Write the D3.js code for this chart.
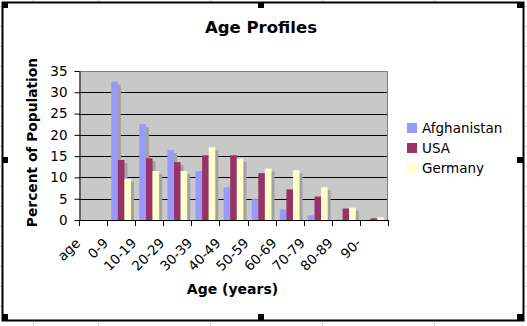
<!DOCTYPE html>
<html><head><meta charset="utf-8">
<script src="https://cdn.jsdelivr.net/npm/d3@7"></script>
<style>
html,body{margin:0;padding:0;background:#fff;}
svg{display:block;font-family:"DejaVu Sans",Verdana,sans-serif;}
</style></head><body>
<svg id="chart" width="527" height="326"></svg>
<script>
// Age-group share of population by country
const categories = ["age","0-9","10-19","20-29","30-39","40-49","50-59","60-69","70-79","80-89","90-"];
const seriesNames = ["Afghanistan","USA","Germany"];
const afghanistan = [null, 32.5, 22.5, 16.4, 11.5, 7.7, 4.9, 2.5, 1.1, 0.1, 0];
const usa         = [null, 14.1, 14.5, 13.6, 15.2, 15.2, 11.0, 7.2, 5.5, 2.7, 0.4];
const germany     = [null,  9.7, 11.5, 11.5, 17.1, 14.4, 12.1, 11.7, 7.7, 2.9, 0.6];
const yTicks = [0, 5, 10, 15, 20, 25, 30, 35];
const colors = ["#9999ff", "#993366", "#ffffcc"];

const seriesValues = [afghanistan, usa, germany];

const svg = d3.select("#chart");
const W = 527, H = 326;

// worksheet cells behind the chart object
const sheet = svg.append("g").attr("stroke", "#d4d4d4").attr("stroke-width", 1);
[33.5, 98.5, 210.5, 322.5, 434.5].forEach(x =>
  sheet.append("line").attr("x1", x).attr("x2", x).attr("y1", 0).attr("y2", H));
d3.range(6.5, H, 20).forEach(y =>
  sheet.append("line").attr("x1", 0).attr("x2", W).attr("y1", y).attr("y2", y));

// chart object frame
svg.append("rect")
  .attr("x", 2.5).attr("y", 2.5).attr("width", 521).attr("height", 318)
  .attr("fill", "#fff").attr("stroke", "#000").attr("stroke-width", 2);

// plot area
const plot = {left: 79, right: 388, top: 71, bottom: 220};
const x = d3.scaleBand().domain(categories).range([plot.left, plot.right]);
const xs = d3.scaleBand().domain(seriesNames).range([0, x.bandwidth()]).paddingOuter(0.63);
const y = d3.scaleLinear().domain([0, 35]).range([plot.bottom, plot.top]);

svg.append("rect")
  .attr("x", plot.left).attr("y", plot.top)
  .attr("width", plot.right - plot.left).attr("height", plot.bottom - plot.top)
  .attr("fill", "#c8c8c8");

// horizontal gridlines
svg.append("g").selectAll("line")
  .data(yTicks.filter(t => t > 0 && t < 35))
  .join("line")
  .attr("x1", plot.left).attr("x2", plot.right)
  .attr("y1", d => Math.round(y(d)) + 0.5).attr("y2", d => Math.round(y(d)) + 0.5)
  .attr("stroke", "#000").attr("stroke-width", 1);

// plot border top / right
svg.append("path")
  .attr("d", `M${plot.left},${plot.top + 0.5}H${plot.right - 0.5}V${plot.bottom}`)
  .attr("fill", "none").attr("stroke", "#808080").attr("stroke-width", 1);

// bar records
const bars = [];
seriesNames.forEach((s, i) => {
  categories.forEach((c, j) => {
    const v = seriesValues[i][j];
    if (v != null) bars.push({series: s, cat: c, value: v, color: colors[i]});
  });
});

// drop shadows
svg.append("g").selectAll("rect")
  .data(bars.filter(d => d.value > 0))
  .join("rect")
  .attr("x", d => x(d.cat) + xs(d.series) + 3)
  .attr("y", d => Math.min(y(d.value) + 3, plot.bottom))
  .attr("width", xs.bandwidth())
  .attr("height", d => Math.max(0, plot.bottom - y(d.value) - 3))
  .attr("fill", "#a2a2a2");

// bars
svg.append("g").selectAll("rect")
  .data(bars)
  .join("rect")
  .attr("x", d => x(d.cat) + xs(d.series))
  .attr("y", d => y(d.value))
  .attr("width", xs.bandwidth())
  .attr("height", d => plot.bottom - y(d.value))
  .attr("fill", d => d.color);

// y axis
const yAxis = svg.append("g")
  .attr("transform", `translate(${plot.left + 0.5},0)`)
  .call(d3.axisLeft(y).tickValues(yTicks).tickSize(5).tickPadding(7).tickSizeOuter(0));
yAxis.select(".domain").attr("stroke", "#000");
yAxis.selectAll(".tick line").attr("stroke", "#000");
yAxis.selectAll("text").attr("font-size", "13.5px").attr("fill", "#000")
  .attr("font-family", "DejaVu Sans, Verdana, sans-serif");

// x axis: line and ticks at category boundaries
const xAxis = svg.append("g");
xAxis.append("line")
  .attr("x1", plot.left).attr("x2", plot.right)
  .attr("y1", plot.bottom + 0.5).attr("y2", plot.bottom + 0.5)
  .attr("stroke", "#000");
const bounds = categories.map(c => x(c)).concat([x.range()[1]]);
xAxis.selectAll("line.tk").data(bounds).join("line").attr("class", "tk")
  .attr("x1", d => Math.round(d) + 0.5).attr("x2", d => Math.round(d) + 0.5)
  .attr("y1", plot.bottom).attr("y2", plot.bottom + 6)
  .attr("stroke", "#000");
xAxis.selectAll("text").data(categories).join("text")
  .attr("transform", d => `translate(${x(d) + x.bandwidth() / 2 - 12},${plot.bottom + 24}) rotate(-45)`)
  .attr("text-anchor", "end")
  .attr("font-size", "13.5px")
  .text(d => d);

// titles
svg.append("text").attr("x", 261).attr("y", 32.5).attr("text-anchor", "middle")
  .attr("font-size", "16.5px").attr("font-weight", "bold").text("Age Profiles");
svg.append("text").attr("transform", "translate(37,142.5) rotate(-90)").attr("text-anchor", "middle")
  .attr("font-size", "13.8px").attr("font-weight", "bold").text("Percent of Population");
svg.append("text").attr("x", 232.5).attr("y", 294).attr("text-anchor", "middle")
  .attr("font-size", "14px").attr("font-weight", "bold").text("Age (years)");

// legend
const legend = svg.append("g").selectAll("g").data(seriesNames).join("g")
  .attr("transform", (d, i) => `translate(407,${128 + i * 20})`);
legend.append("rect").attr("x", 0).attr("y", -5).attr("width", 10).attr("height", 10)
  .attr("fill", (d, i) => colors[i]);
legend.append("text").attr("x", 15).attr("dy", "0.36em").attr("font-size", "13.5px").text(d => d);

// selection handles
const hx = [2, 258, 517], hy = [2, 157, 314];
const handles = [];
hx.forEach((hxv, i) => hy.forEach((hyv, j) => { if (!(i === 1 && j === 1)) handles.push([hxv, hyv]); }));
svg.append("g").selectAll("rect").data(handles).join("rect")
  .attr("x", d => d[0]).attr("y", d => d[1]).attr("width", 6).attr("height", 6).attr("fill", "#000");
</script>
</body></html>
